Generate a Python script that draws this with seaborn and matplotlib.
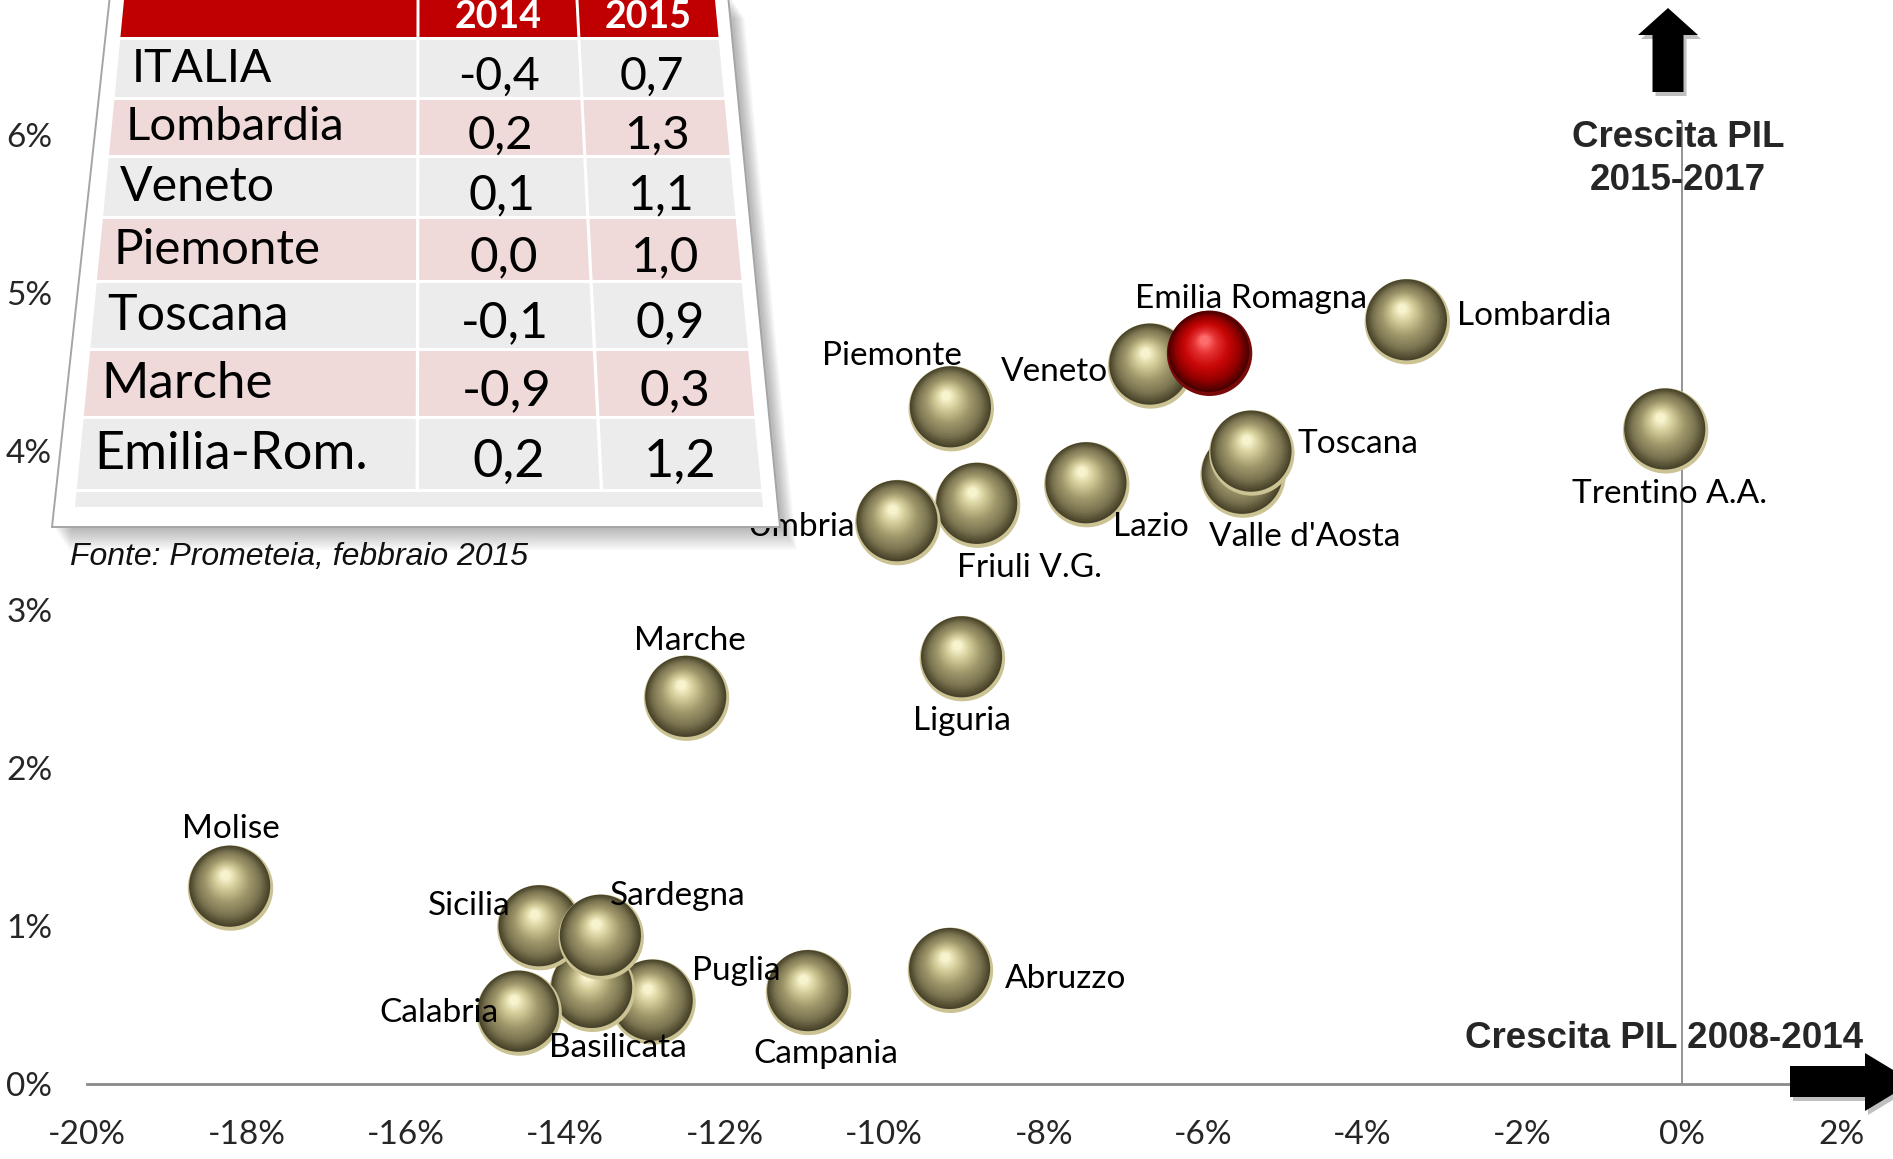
import numpy as np
import pandas as pd
import matplotlib
matplotlib.use('Agg')
import matplotlib.pyplot as plt
import seaborn as sns
from matplotlib.patches import Polygon
from matplotlib.transforms import ScaledTranslation
from matplotlib.colors import LinearSegmentedColormap

sns.set_theme(style='white')
plt.rcParams['font.family'] = ['Lato', 'DejaVu Sans']

# Bubble data (growth of GDP, %)
regioni = ['Lombardia', 'Trentino A.A.', 'Veneto', 'Emilia Romagna', "Valle d'Aosta",
           'Toscana', 'Piemonte', 'Lazio', 'Friuli V.G.', 'Umbria', 'Liguria', 'Marche',
           'Molise', 'Puglia', 'Basilicata', 'Calabria', 'Sicilia', 'Sardegna',
           'Campania', 'Abruzzo']
pil_2008_2014 = [-3.44, -0.20, -6.66, -5.92, -5.50, -5.39, -9.16, -7.46, -8.83, -9.83,
                 -9.02, -12.48, -18.20, -12.90, -13.66, -14.58, -14.32, -13.55, -10.95, -9.17]
pil_2015_2017 = [4.82, 4.13, 4.54, 4.62, 3.85, 3.99, 4.27, 3.79, 3.66, 3.55,
                 2.69, 2.44, 1.24, 0.52, 0.60, 0.45, 0.99, 0.93, 0.58, 0.72]
evidenza = 'Emilia Romagna'

# Inset table (Prometeia forecasts)
tab_regioni = ['ITALIA', 'Lombardia', 'Veneto', 'Piemonte', 'Toscana', 'Marche', 'Emilia-Rom.']
tab_2014 = [-0.4, 0.2, 0.1, 0.0, -0.1, -0.9, 0.2]
tab_2015 = [0.7, 1.3, 1.1, 1.0, 0.9, 0.3, 1.2]
tab_anni = ['2014', '2015']

x_ticks = list(range(-20, 3, 2))
y_ticks = list(range(0, 7))

W, H = 1893, 1159
fig = plt.figure(figsize=(W / 100, H / 100), dpi=100)
ax = fig.add_axes([87 / W, 74.8 / H, (1841 - 87) / W, 1084.2 / H])
ax.set_xlim(-20, 2)
ax.set_ylim(0, 6.853)

df = pd.DataFrame({'regione': regioni, 'x': pil_2008_2014, 'y': pil_2015_2017})

# sphere shading
oliva = LinearSegmentedColormap.from_list('oliva', [(0, '#48432a'), (0.22, '#7a7350'),
                                                    (0.5, '#a0986b'), (0.78, '#d2cb98'),
                                                    (1, '#f7f3cc')])
rosso = LinearSegmentedColormap.from_list('rosso', [(0, '#4a0000'), (0.22, '#950000'),
                                                    (0.5, '#c80606'), (0.8, '#e43232'),
                                                    (1, '#ff6c6c')])
D = 61.5  # bubble diameter in points
n_layers = 24

for i, r in df.iterrows():
    cmap = rosso if r['regione'] == evidenza else oliva
    rim = '#7a0a0a' if r['regione'] == evidenza else '#cbc394'
    z = 5 + i
    sns.scatterplot(x=[r['x']], y=[r['y']], s=D ** 2, color=rim, edgecolor='none',
                    legend=False, ax=ax, zorder=z)
    for k in range(n_layers):
        t = k / (n_layers - 1)
        d = D * (0.95 - 0.84 * t)
        off = ScaledTranslation((-0.12 * D / 2 * t - 0.6 * (1 - t)) / 72,
                                (0.30 * D / 2 * t + 1.3 * (1 - t)) / 72,
                                fig.dpi_scale_trans)
        ax.scatter([r['x']], [r['y']], s=d ** 2, color=cmap(t), edgecolor='none',
                   transform=ax.transData + off, zorder=z + k * 0.001)

# labels (offsets from bubble centre, screen px; ha)
lab_off = {
    'Lombardia': (41, -5, 'left'), 'Trentino A.A.': (3, 52, 'center'),
    'Emilia Romagna': (34, -45, 'center'), 'Veneto': (-35, 5, 'right'),
    'Toscana': (38, -7, 'left'), "Valle d'Aosta": (51, 51, 'center'),
    'Piemonte': (-49, -44, 'center'), 'Lazio': (53, 35, 'center'),
    'Friuli V.G.': (43, 52, 'center'), 'Umbria': (-36, 4, 'right'),
    'Liguria': (0, 52, 'center'), 'Marche': (3, -47, 'center'),
    'Molise': (0, -49, 'center'), 'Sicilia': (-24, -18, 'right'),
    'Sardegna': (7, -34, 'left'), 'Puglia': (32, -26, 'left'),
    'Calabria': (-17, 0, 'right'), 'Basilicata': (21, 49, 'center'),
    'Campania': (14, 51, 'center'), 'Abruzzo': (45, 7, 'left'),
}
k_pt = 1.2073 * 0.72
for _, r in df.iterrows():
    dx, dy, ha = lab_off[r['regione']]
    ax.annotate(r['regione'], xy=(r['x'], r['y']), xytext=(dx * k_pt, -dy * k_pt),
                textcoords='offset points', ha=ha, va='center', fontsize=24,
                color='black', zorder=60)

# axes
ax.vlines(0, 0, 6.08, color='#8c8c8c', lw=1.3, zorder=2)
sns.despine(ax=ax, left=True, top=True, right=True)
ax.spines['bottom'].set_color('#8a8a8a')
ax.spines['bottom'].set_linewidth(2)
ax.set_xticks(x_ticks, [f'{v}%' for v in x_ticks])
ax.set_yticks(y_ticks, [f'{v}%' for v in y_ticks])
ax.tick_params(axis='x', length=0, labelsize=24, pad=26)
ax.tick_params(axis='y', length=0, labelsize=24, pad=25)
ax.grid(False)
ax.set_xlabel('')
ax.set_ylabel('')


def fx(x):
    return x / W


def fy(y):
    return 1 - y / H


def add_poly(pts, **kw):
    fig.add_artist(Polygon([(fx(a), fy(b)) for a, b in pts], closed=True,
                           transform=fig.transFigure, **kw))


# arrows
up = [(1668, 8), (1698, 35), (1683.5, 35), (1683.5, 92), (1652.5, 92), (1652.5, 35), (1638, 35)]
right = [(1790, 1066), (1865, 1066), (1865, 1053), (1913, 1082), (1865, 1111), (1865, 1097),
         (1790, 1097)]
for pts in (up, right):
    add_poly([(a + 3, b + 4) for a, b in pts], facecolor='#000000', alpha=0.25,
             edgecolor='none', zorder=8)
    add_poly(pts, facecolor='black', edgecolor='none', zorder=9)

fig.text(fx(1678), fy(159), 'Crescita PIL\n2015-2017', ha='center', va='center',
         fontsize=26.5, fontweight='bold', family=['Liberation Sans', 'DejaVu Sans'],
         linespacing=1.32, zorder=9)
fig.text(fx(1863), fy(1038), 'Crescita PIL 2008-2014', ha='right', va='center',
         fontsize=26.5, fontweight='bold', family=['Liberation Sans', 'DejaVu Sans'],
         zorder=9)

# inset table panel (slightly in perspective)
panel = [(110, -5), (728, -5), (780, 527), (52, 527)]
for s in range(1, 10):
    add_poly([(a + 1.6 * s + 2, b + 2.4 * s + 1) for a, b in panel], facecolor='black',
             alpha=0.03, edgecolor='none', zorder=10)
add_poly(panel, facecolor='white', edgecolor='#a5a5a5', lw=1.4, zorder=11)


def qx(u, y):
    xl = 124 - 49 * y / 507
    xr = 715 + 48 * y / 507
    return xl + u * (xr - xl)


def cell(u0, u1, y0, y1, color):
    add_poly([(qx(u0, y0), y0), (qx(u1, y0), y0), (qx(u1, y1), y1), (qx(u0, y1), y1)],
             facecolor=color, edgecolor='none', zorder=12)


cols = [(0, 0.495), (0.500, 0.764), (0.769, 1.0)]
bands = [(40, 97), (100, 155), (158, 216), (219, 280), (283, 348), (351, 416), (419, 489)]
row_col = ['#ececec', '#efd9d9']

for u0, u1 in cols:
    cell(u0, u1, -30, 37, '#c00000')
for j, (y0, y1) in enumerate(bands):
    for u0, u1 in cols:
        cell(u0, u1, y0, y1, row_col[j % 2])
cell(0, 1, 492, 507, '#ececec')

for anno, (u0, u1) in zip(tab_anni, cols[1:]):
    fig.text(fx(qx((u0 + u1) / 2, 17)), fy(17), anno, ha='center', va='center',
             fontsize=27, fontweight='bold', color='white', zorder=13)


def fmt(v):
    return f'{v:.1f}'.replace('.', ',')


for j, (y0, y1) in enumerate(bands):
    yc = (y0 + y1) / 2
    fs = 33.5 * (591 + 97 * yc / 507) / 604
    fig.text(fx(qx(0, yc) + 14), fy(yc), tab_regioni[j], ha='left', va='center',
             fontsize=fs, color='black', zorder=13)
    for val, (u0, u1) in zip((tab_2014[j], tab_2015[j]), cols[1:]):
        fig.text(fx(qx((u0 + u1) / 2, yc + 8)), fy(yc + 8), fmt(val), ha='center',
                 va='center', fontsize=fs, color='black', zorder=13)

fig.text(fx(70), fy(557), 'Fonte: Prometeia, febbraio 2015', ha='left', va='center',
         fontsize=23, style='italic', family=['Liberation Sans Narrow', 'Liberation Sans'],
         color='#111111', zorder=13)

fig.savefig('out.png', dpi=100)
